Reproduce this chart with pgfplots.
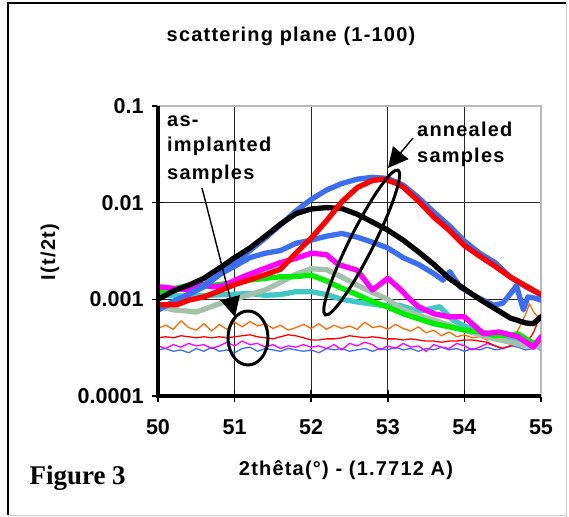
\documentclass[border=0pt]{standalone}
\usepackage{fontspec}
\setmainfont{Liberation Sans}
\newfontfamily\lsfont[LetterSpace=6]{Liberation Sans}
\newfontfamily\figfont{Liberation Serif}
\usepackage{pgfplots}
\pgfplotsset{compat=1.18}
\usetikzlibrary{arrows.meta}
\definecolor{cBlue}{HTML}{3C6EF0}
\definecolor{cRed}{HTML}{FF0000}
\definecolor{cMag}{HTML}{FF00FF}
\definecolor{cGreen}{HTML}{00EE00}
\definecolor{cCyan}{HTML}{40C8C8}
\definecolor{cSage}{HTML}{A3C2AC}
\definecolor{cOrange}{HTML}{FF6A00}
\newcommand\txt{\fontsize{20bp}{24bp}\selectfont\bfseries}
\newcommand\tck{\fontsize{21.5bp}{25bp}\selectfont\bfseries}

\begin{document}
\begin{tikzpicture}
% page size and frame
\path (-158bp,-121bp) rectangle (411bp,396bp);
\draw[gray!40, line width=1bp] (-150bp,-119bp) -- (408bp,-119bp) -- (408bp,393bp);
\draw[black, line width=1.2bp] (-150bp,-119bp) -- (-150bp,393bp) -- (408bp,393bp);

\begin{axis}[at={(0,0)}, anchor=south west, scale only axis,
  width=383bp, height=290bp,
  xmin=50, xmax=55, ymode=log, ymin=1e-4, ymax=0.1,
  xtick={50,51,52,53,54,55}, xticklabels={50,51,52,53,54,55},
  ytick={1e-4,1e-3,1e-2,1e-1}, yticklabels={0.0001,0.001,0.01,0.1},
  yminorticks=false, xminorticks=false,
  grid=major, major grid style={black!85, line width=0.8bp},
  axis line style={draw=gray!55, line width=1.2bp},
  tick align=center, major tick length=12bp,
  tick style={black, line width=1.6bp},
  xtick pos=left, ytick pos=left,
  tick label style={font=\tck},
  xticklabel style={yshift=-14bp},
  yticklabel style={xshift=-5bp},
  every axis plot/.append style={line join=round, line cap=round},
  thin line/.style={line width=1.3bp},
  fat line/.style={line width=5.3bp}]

% as-implanted samples (thin, noisy)
\addplot[cBlue, thin line] table {
x y
50.0 0.00030
50.1 0.00031
50.2 0.00029
50.3 0.00030
50.4 0.00028
50.5 0.00031
50.6 0.00029
50.7 0.00032
50.8 0.00029
50.9 0.00030
51.0 0.00028
51.1 0.00031
51.2 0.00032
51.3 0.00029
51.4 0.00031
51.5 0.00030
51.6 0.00029
51.7 0.00031
51.8 0.00030
51.9 0.00029
52.0 0.00030
52.1 0.00028
52.2 0.00031
52.3 0.00030
52.4 0.00031
52.5 0.00029
52.6 0.00030
52.7 0.00031
52.8 0.00029
52.9 0.00031
53.0 0.00030
53.1 0.00032
53.2 0.00030
53.3 0.00031
53.4 0.00029
53.5 0.00031
53.6 0.00030
53.7 0.00032
53.8 0.00030
53.9 0.00031
54.0 0.00029
54.1 0.00031
54.2 0.00030
54.3 0.00032
54.4 0.00030
54.5 0.00031
54.6 0.00033
54.7 0.00032
54.8 0.00030
54.9 0.00031
55.0 0.00032
};
\addplot[cMag, thin line] table {
x y
50.0 0.00033
50.1 0.00031
50.2 0.00034
50.3 0.00032
50.4 0.00035
50.5 0.00033
50.6 0.00034
50.7 0.00031
50.8 0.00033
50.9 0.00036
51.0 0.00033
51.1 0.00037
51.2 0.00034
51.3 0.00035
51.4 0.00032
51.5 0.00034
51.6 0.00031
51.7 0.00033
51.8 0.00032
51.9 0.00034
52.0 0.00032
52.1 0.00033
52.2 0.00031
52.3 0.00034
52.4 0.00030
52.5 0.00035
52.6 0.00033
52.7 0.00036
52.8 0.00034
52.9 0.00030
53.0 0.00033
53.1 0.00031
53.2 0.00035
53.3 0.00032
53.4 0.00033
53.5 0.00029
53.6 0.00034
53.7 0.00032
53.8 0.00031
53.9 0.00035
54.0 0.00033
54.1 0.00030
54.2 0.00032
54.3 0.00035
54.4 0.00033
54.5 0.00031
54.6 0.00033
54.7 0.00036
54.8 0.00033
54.9 0.00031
55.0 0.00034
};
\addplot[cRed, thin line] table {
x y
50.0 0.00040
50.1 0.00041
50.2 0.00040
50.3 0.00042
50.4 0.00041
50.5 0.00040
50.6 0.00041
50.7 0.00040
50.8 0.00041
50.9 0.00040
51.0 0.00041
51.1 0.00042
51.2 0.00043
51.3 0.00041
51.4 0.00040
51.5 0.00039
51.6 0.00041
51.7 0.00043
51.8 0.00042
51.9 0.00040
52.0 0.00038
52.1 0.00038
52.2 0.00039
52.3 0.00039
52.4 0.00040
52.5 0.00042
52.6 0.00041
52.7 0.00040
52.8 0.00041
52.9 0.00040
53.0 0.00039
53.1 0.00039
53.2 0.00038
53.3 0.00039
53.4 0.00038
53.5 0.00037
53.6 0.00037
53.7 0.00036
53.8 0.00037
53.9 0.00037
54.0 0.00038
54.1 0.00038
54.2 0.00037
54.3 0.00036
54.4 0.00033
54.5 0.00031
54.6 0.00033
54.7 0.00035
54.8 0.00034
54.9 0.00045
55.0 0.00070
};
\addplot[cOrange, thin line] table {
x y
50.0 0.00050
50.1 0.00054
50.2 0.00049
50.3 0.00060
50.4 0.00051
50.5 0.00048
50.6 0.00056
50.7 0.00047
50.8 0.00055
50.9 0.00049
51.0 0.00058
51.1 0.00052
51.2 0.00059
51.3 0.00053
51.4 0.00056
51.5 0.00050
51.6 0.00054
51.7 0.00048
51.8 0.00051
51.9 0.00055
52.0 0.00050
52.1 0.00056
52.2 0.00049
52.3 0.00054
52.4 0.00050
52.5 0.00053
52.6 0.00049
52.7 0.00058
52.8 0.00051
52.9 0.00053
53.0 0.00049
53.1 0.00055
53.2 0.00050
53.3 0.00047
53.4 0.00052
53.5 0.00045
53.6 0.00048
53.7 0.00042
53.8 0.00046
53.9 0.00041
54.0 0.00043
54.1 0.00040
54.2 0.00041
54.3 0.00038
54.4 0.00040
54.5 0.00038
54.6 0.00039
54.7 0.00048
54.8 0.00070
54.85 0.00090
54.9 0.00075
55.0 0.00060
};

% annealed samples (thick)
\addplot[cCyan, fat line] table {
x y
50.0 0.00110
50.4 0.00108
50.9 0.00112
51.2 0.00115
51.4 0.00110
51.6 0.00112
51.8 0.00120
52.0 0.00120
52.2 0.00112
52.4 0.00100
52.6 0.00094
52.9 0.00087
53.15 0.00087
53.4 0.00075
53.68 0.00084
53.85 0.00061
54.0 0.00053
54.2 0.00047
54.45 0.00041
54.7 0.00038
54.9 0.00035
55.0 0.00031
};
\addplot[cSage, fat line] table {
x y
50.0 0.00084
50.2 0.00078
50.5 0.00074
50.8 0.00090
51.1 0.00106
51.4 0.00125
51.6 0.00150
51.8 0.00182
52.0 0.00207
52.2 0.00203
52.4 0.00170
52.6 0.00140
52.8 0.00118
53.0 0.00100
53.2 0.00078
53.4 0.00068
53.6 0.00061
53.8 0.00054
54.0 0.00048
54.2 0.00043
54.4 0.00039
54.6 0.00036
54.8 0.00033
55.0 0.00032
};
\addplot[cGreen, fat line] table {
x y
50.0 0.00120
50.2 0.00128
50.4 0.00140
50.6 0.00135
50.9 0.00146
51.2 0.00158
51.4 0.00165
51.6 0.00171
51.8 0.00172
52.0 0.00178
52.2 0.00155
52.4 0.00130
52.6 0.00112
52.8 0.00095
53.0 0.00083
53.2 0.00071
53.4 0.00063
53.6 0.00056
53.8 0.00052
54.0 0.00048
54.2 0.00046
54.4 0.00042
54.6 0.00043
54.7 0.00044
54.9 0.00035
55.0 0.00038
};
\addplot[cMag, fat line] table {
x y
50.0 0.00135
50.2 0.00130
50.4 0.00125
50.53 0.00146
50.7 0.00135
50.85 0.00138
51.1 0.00170
51.4 0.00210
51.6 0.00240
51.8 0.00265
52.0 0.00300
52.2 0.00290
52.35 0.00230
52.6 0.00200
52.8 0.00125
53.0 0.00165
53.15 0.00130
53.3 0.00098
53.4 0.00084
53.6 0.00071
53.8 0.00066
54.0 0.00066
54.25 0.00044
54.45 0.00046
54.7 0.00041
54.9 0.00032
55.0 0.00041
};
\addplot[cBlue, fat line] table {
x y
50.0 0.00077
50.2 0.00095
50.4 0.00113
50.6 0.00135
50.8 0.00180
51.0 0.00220
51.2 0.00270
51.4 0.00300
51.6 0.00320
51.8 0.00380
52.0 0.00410
52.2 0.00450
52.4 0.00480
52.6 0.00440
52.8 0.00390
53.0 0.00340
53.2 0.00270
53.4 0.00230
53.6 0.00185
53.72 0.00158
53.81 0.00193
53.94 0.00135
54.16 0.00106
54.38 0.00087
54.5 0.00091
54.64 0.00125
54.68 0.00138
54.77 0.00078
54.83 0.00106
54.94 0.00102
55.0 0.00098
};
\addplot[cBlue, fat line] table {
x y
50.0 0.00080
50.2 0.00092
50.4 0.00112
50.6 0.00140
50.8 0.00180
51.0 0.00240
51.2 0.00320
51.4 0.00430
51.6 0.00590
51.8 0.00820
52.0 0.01080
52.2 0.01350
52.4 0.01580
52.6 0.01750
52.8 0.01830
53.0 0.01780
53.2 0.01520
53.4 0.01130
53.6 0.00800
53.8 0.00580
54.0 0.00400
54.2 0.00300
54.4 0.00240
54.6 0.00170
54.8 0.00135
55.0 0.00112
};
\addplot[black, fat line] table {
x y
50.0 0.00100
50.2 0.00122
50.4 0.00140
50.6 0.00165
50.8 0.00210
51.0 0.00270
51.2 0.00340
51.4 0.00450
51.6 0.00600
51.8 0.00770
52.0 0.00860
52.2 0.00890
52.4 0.00870
52.6 0.00760
52.8 0.00630
53.0 0.00520
53.2 0.00410
53.4 0.00310
53.6 0.00230
53.8 0.00165
54.0 0.00128
54.2 0.00100
54.4 0.00080
54.6 0.00064
54.8 0.00057
54.9 0.00056
55.0 0.00066
};
\addplot[cRed, fat line] table {
x y
50.0 0.00088
50.25 0.00088
50.4 0.00098
50.6 0.00106
50.8 0.00122
51.0 0.00142
51.2 0.00160
51.4 0.00180
51.6 0.00205
51.8 0.00300
52.0 0.00430
52.2 0.00650
52.4 0.01020
52.6 0.01430
52.8 0.01700
52.95 0.01750
53.1 0.01600
53.2 0.01450
53.4 0.01040
53.6 0.00710
53.8 0.00520
54.0 0.00360
54.2 0.00280
54.4 0.00220
54.6 0.00170
54.8 0.00138
55.0 0.00112
};
\end{axis}

% thick left and bottom axis lines
\draw[black, line width=3bp] (0,290bp) -- (0,0) -- (383bp,0);

% titles
\node[anchor=base, font=\txt\lsfont] at (133bp,354bp) {scattering plane (1-100)};
\node[anchor=base, font=\txt\lsfont] at (188bp,-79bp) {2thêta(°) - (1.7712 A)};
\node[rotate=90, font=\txt\lsfont] at (-108bp,144bp) {I(t/2t)};
\node[anchor=base west, font=\figfont\bfseries\fontsize{27bp}{31bp}\selectfont] at (-132bp,-88bp) {Figure 3};

% annotations
\node[anchor=base west, inner sep=0, font=\txt\lsfont] at (9bp,269bp) {as-};
\node[anchor=base west, inner sep=0, font=\txt\lsfont] at (9bp,244bp) {implanted};
\node[anchor=base west, inner sep=0, font=\txt\lsfont] at (9bp,216bp) {samples};
\node[anchor=base west, inner sep=0, font=\txt\lsfont] at (259bp,259bp) {annealed};
\node[anchor=base west, inner sep=0, font=\txt\lsfont] at (259bp,233bp) {samples};
\draw[black, line width=1.4bp, -{Triangle[length=20bp,width=20bp]}] (44bp,208bp) -- (77bp,79bp);
\draw[black, line width=1.4bp, -{Triangle[length=20bp,width=20bp]}] (255bp,258bp) -- (230bp,228bp);
\draw[black, line width=3bp] (90bp,58bp) ellipse [x radius=20bp, y radius=27bp];
\draw[black, line width=3bp, rotate around={63.3:(203.7bp,153.5bp)}] (203.7bp,153.5bp) ellipse [x radius=81bp, y radius=12bp];
\end{tikzpicture}
\end{document}
